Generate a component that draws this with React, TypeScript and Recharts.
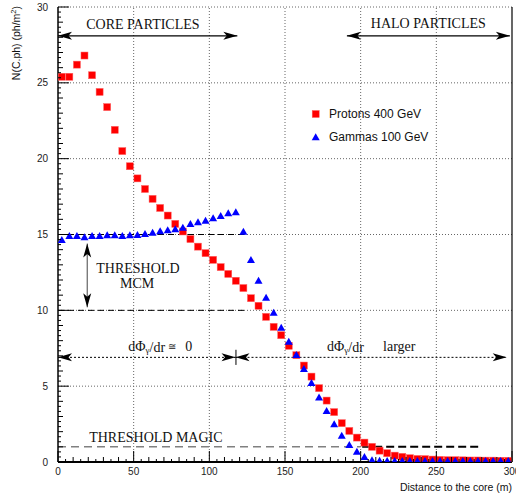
import React from 'react';
import { ScatterChart, Scatter, XAxis, YAxis, ReferenceLine, ReferenceDot, Legend, Label } from 'recharts';

// bin centres (m)
const distance = [
  2.5, 7.5, 12.5, 17.5, 22.5, 27.5, 32.5, 37.5, 42.5, 47.5,
  52.5, 57.5, 62.5, 67.5, 72.5, 77.5, 82.5, 87.5, 92.5, 97.5,
  102.5, 107.5, 112.5, 117.5, 122.5, 127.5, 132.5, 137.5, 142.5, 147.5,
  152.5, 157.5, 162.5, 167.5, 172.5, 177.5, 182.5, 187.5, 192.5, 197.5,
  202.5, 207.5, 212.5, 217.5, 222.5, 227.5, 232.5, 237.5, 242.5, 247.5,
  252.5, 257.5, 262.5, 267.5, 272.5, 277.5, 282.5, 287.5, 292.5, 297.5,
];

const protons = [
  25.4, 25.4, 26.2, 26.8, 25.5, 24.4, 23.4, 21.9, 20.5, 19.5,
  18.7, 18.0, 17.35, 16.75, 16.25, 15.7, 15.2, 14.7, 14.2, 13.77,
  13.33, 12.85, 12.4, 11.95, 11.47, 10.8, 10.3, 9.57, 8.91, 8.36,
  7.66, 7.04, 6.36, 5.63, 4.87, 4.05, 3.29, 2.56, 2.05, 1.61,
  1.28, 1.0, 0.75, 0.58, 0.42, 0.34, 0.25, 0.2, 0.19, 0.16,
  0.14, 0.12, 0.12, 0.11, 0.1, 0.1, 0.09, 0.09, 0.08, 0.08,
];

const gammas = [
  14.65, 14.92, 14.92, 14.83, 14.92, 14.92, 14.97, 14.97, 14.92, 14.97,
  14.98, 15.05, 15.13, 15.22, 15.29, 15.36, 15.46, 15.7, 15.82, 15.92,
  16.08, 16.23, 16.41, 16.48, 15.2, 13.33, 11.97, 10.85, 9.86, 8.87,
  7.94, 7.06, 6.14, 5.22, 4.27, 3.37, 2.51, 1.74, 1.13, 0.69,
  0.34, 0.13, 0.09, 0.08, 0.08, 0.08, 0.08, 0.08, 0.08, 0.08,
  0.08, 0.08, 0.08, 0.08, 0.08, 0.08, 0.08, 0.08, 0.08, 0.08,
];

const xTickLabels = [0, 50, 100, 150, 200, 250, 300];
const yTickLabels = [0, 5, 10, 15, 20, 25, 30];
const xGrid = [50, 100, 150, 200, 250];
const yGrid = [5, 10, 15, 20, 25, 30];

const protonData = distance.map((x, i) => ({ x, y: protons[i] }));
const gammaData = distance.map((x, i) => ({ x, y: gammas[i] }));

const xTicks: number[] = [];
for (let v = 0; v <= 300; v += 5) xTicks.push(v);
const yTicks: number[] = [];
for (let i = 0; i <= 90; i++) yTicks.push(i / 3);

const SANS = '"Liberation Sans", Arial, sans-serif';
const SERIF = '"Liberation Serif", "Times New Roman", serif';

const isMult = (v: number, m: number) => Math.abs(v / m - Math.round(v / m)) < 1e-6;

const XTick = ({ x, y, payload }: any) => {
  const v = payload.value;
  const major = xTickLabels.some((t) => Math.abs(t - v) < 1e-6);
  const len = major ? 11 : isMult(v, 10) ? 5 : 3;
  return (
    <g>
      <line x1={x} x2={x} y1={y} y2={y - len} stroke="#000" strokeWidth={1} />
      {major && (
        <text x={x} y={y + 9} textAnchor="middle" dominantBaseline="central" fontFamily={SANS} fontSize={10} fill="#222">
          {v}
        </text>
      )}
    </g>
  );
};

const YTick = ({ x, y, payload }: any) => {
  const v = payload.value;
  const major = yTickLabels.some((t) => Math.abs(t - v) < 1e-6);
  const len = major ? 11 : isMult(v, 1) ? 5 : 3;
  return (
    <g>
      <line x1={x} x2={x + len} y1={y} y2={y} stroke="#000" strokeWidth={1} />
      {major && (
        <text x={x - 10} y={y} textAnchor="end" dominantBaseline="central" fontFamily={SANS} fontSize={10} fill="#222">
          {Math.round(v)}
        </text>
      )}
    </g>
  );
};

const SquareDot = ({ cx, cy }: any) => (
  <rect x={cx - 3.5} y={cy - 3.5} width={7} height={7} fill="#ff0000" stroke="#ff6060" strokeWidth={0.5} />
);

const TriangleDot = ({ cx, cy }: any) => (
  <polygon points={`${cx - 4},${cy + 3.2} ${cx + 4},${cy + 3.2} ${cx},${cy - 3.8}`} fill="#0000ff" />
);

const headPoly = (tx: number, ty: number, ux: number, uy: number, hl: number, hw: number) => {
  const nx = -uy;
  const ny = ux;
  const bx = tx - ux * hl;
  const by = ty - uy * hl;
  const mx = tx - ux * hl * 0.75;
  const my = ty - uy * hl * 0.75;
  return `${tx},${ty} ${bx + nx * hw},${by + ny * hw} ${mx},${my} ${bx - nx * hw},${by - ny * hw}`;
};

const makeArrow = (dash: string | undefined, width: number, color: string) => (p: any) => {
  const { x1, y1, x2, y2 } = p;
  const L = Math.hypot(x2 - x1, y2 - y1) || 1;
  const ux = (x2 - x1) / L;
  const uy = (y2 - y1) / L;
  return (
    <g>
      <line x1={x1} y1={y1} x2={x2} y2={y2} stroke={color} strokeWidth={width} strokeDasharray={dash} />
      <polygon points={headPoly(x2, y2, ux, uy, 14, 4)} fill="#000" />
      <polygon points={headPoly(x1, y1, -ux, -uy, 14, 4)} fill="#000" />
    </g>
  );
};

const solidArrow = makeArrow(undefined, 1.3, '#000');
const dottedArrow = makeArrow('2 2', 1, '#000');
const mcmArrow = makeArrow(undefined, 1, '#444');

const textAt = (content: React.ReactNode, anchor: string, size: number, family = SERIF) => (p: any) => (
  <text x={p.cx} y={p.cy} textAnchor={anchor} dominantBaseline="central" fontFamily={family} fontSize={size} fill="#111">
    {content}
  </text>
);

const dPhi = (
  <>
    dΦ<tspan fontSize={9} dy={3}>γ</tspan>
    <tspan dy={-3}>/dr</tspan>
  </>
);

const LegendBox = () => (
  <div style={{ position: 'relative', width: 130, height: 46, fontFamily: SANS, fontSize: 12, color: '#111' }}>
    <svg width={16} height={46} style={{ position: 'absolute', left: 0, top: 0 }}>
      <SquareDot cx={6.7} cy={9} />
      <TriangleDot cx={6.7} cy={32} />
    </svg>
    <div style={{ position: 'absolute', left: 20, top: 1, whiteSpace: 'nowrap', lineHeight: '16px' }}>Protons 400 GeV</div>
    <div style={{ position: 'absolute', left: 20, top: 24, whiteSpace: 'nowrap', lineHeight: '16px' }}>Gammas 100 GeV</div>
  </div>
);

export default function App() {
  return (
    <div style={{ position: 'absolute', left: 0, top: 0, width: 516, height: 497, background: '#fff' }}>
      <ScatterChart width={516} height={497} margin={{ top: 7, right: 4, bottom: 0, left: 0 }}>
        <XAxis
          type="number"
          dataKey="x"
          domain={[0, 300]}
          ticks={xTicks}
          interval={0}
          tick={<XTick />}
          tickLine={false}
          tickSize={0}
          tickMargin={0}
          height={35}
          axisLine={{ stroke: '#000', strokeWidth: 2 }}
          allowDataOverflow
        >
          <Label
            content={() => (
              <text x={512} y={487} textAnchor="end" dominantBaseline="central" fontFamily={SANS} fontSize={10.5} fill="#111">
                Distance to the core (m)
              </text>
            )}
          />
        </XAxis>
        <YAxis
          type="number"
          dataKey="y"
          domain={[0, 30]}
          ticks={yTicks}
          interval={0}
          tick={<YTick />}
          tickLine={false}
          tickSize={0}
          tickMargin={0}
          width={58}
          axisLine={{ stroke: '#000', strokeWidth: 1.5 }}
          allowDataOverflow
        >
          <Label
            content={() => (
              <text transform="translate(20,6) rotate(-90)" textAnchor="end" fontFamily={SANS} fontSize={10.5} fill="#111">
                N(C.ph) (ph/m<tspan fontSize={7.5} dy={-4}>2</tspan>
                <tspan dy={4}>)</tspan>
              </text>
            )}
          />
        </YAxis>

        {xGrid.map((v) => (
          <ReferenceLine key={`gx${v}`} x={v} stroke="#666" strokeWidth={1} strokeDasharray="1 2" />
        ))}
        {yGrid.map((v) => (
          <ReferenceLine key={`gy${v}`} y={v} stroke="#666" strokeWidth={1} strokeDasharray="1 2" />
        ))}
        <ReferenceLine x={300} stroke="#000" strokeWidth={1.2} />

        {/* thresholds */}
        <ReferenceLine segment={[{ x: 0, y: 15 }, { x: 125, y: 15 }]} stroke="#000" strokeWidth={1} strokeDasharray="6 4" ifOverflow="visible" />
        <ReferenceLine segment={[{ x: 0, y: 10 }, { x: 125, y: 10 }]} stroke="#000" strokeWidth={1} strokeDasharray="6 4" ifOverflow="visible" />
        <ReferenceLine segment={[{ x: 0, y: 1 }, { x: 200, y: 1 }]} stroke="#808080" strokeWidth={1.5} strokeDasharray="8 5" ifOverflow="visible" />
        <ReferenceLine segment={[{ x: 201, y: 1 }, { x: 280, y: 1 }]} stroke="#000" strokeWidth={2} strokeDasharray="8 4" ifOverflow="visible" />

        {/* arrows */}
        <ReferenceLine segment={[{ x: 0, y: 28.1 }, { x: 118.5, y: 28.1 }]} shape={solidArrow} ifOverflow="visible" />
        <ReferenceLine segment={[{ x: 190.9, y: 28.1 }, { x: 298.6, y: 28.1 }]} shape={solidArrow} ifOverflow="visible" />
        <ReferenceLine segment={[{ x: 0, y: 6.9 }, { x: 117.3, y: 6.9 }]} shape={dottedArrow} ifOverflow="visible" />
        <ReferenceLine segment={[{ x: 117.3, y: 6.9 }, { x: 296.5, y: 6.9 }]} shape={dottedArrow} ifOverflow="visible" />
        <ReferenceLine segment={[{ x: 117.6, y: 6.4 }, { x: 117.6, y: 7.4 }]} stroke="#000" strokeWidth={1} ifOverflow="visible" />
        <ReferenceLine segment={[{ x: 19.3, y: 14.4 }, { x: 19.3, y: 10.2 }]} shape={mcmArrow} ifOverflow="visible" />

        {/* labels */}
        <ReferenceDot x={56.1} y={28.86} ifOverflow="visible" shape={textAt('CORE PARTICLES', 'middle', 14)} />
        <ReferenceDot x={244.7} y={28.9} ifOverflow="visible" shape={textAt('HALO PARTICLES', 'middle', 14)} />
        <ReferenceDot x={52.8} y={12.77} ifOverflow="visible" shape={textAt('THRESHOLD', 'middle', 14)} />
        <ReferenceDot x={52.3} y={11.79} ifOverflow="visible" shape={textAt('MCM', 'middle', 14)} />
        <ReferenceDot x={64.7} y={1.62} ifOverflow="visible" shape={textAt('THRESHOLD MAGIC', 'middle', 14)} />
        <ReferenceDot x={46.5} y={7.6} ifOverflow="visible" shape={textAt(dPhi, 'start', 14)} />
        <ReferenceDot x={72.9} y={7.6} ifOverflow="visible" shape={textAt('≅', 'start', 10)} />
        <ReferenceDot x={84.1} y={7.6} ifOverflow="visible" shape={textAt('0', 'start', 14)} />
        <ReferenceDot x={177.8} y={7.6} ifOverflow="visible" shape={textAt(dPhi, 'start', 14)} />
        <ReferenceDot x={214.8} y={7.6} ifOverflow="visible" shape={textAt('larger', 'start', 14)} />

        <Scatter name="Protons 400 GeV" data={protonData} shape={<SquareDot />} isAnimationActive={false} />
        <Scatter name="Gammas 100 GeV" data={gammaData} shape={<TriangleDot />} isAnimationActive={false} />

        <Legend
          layout="vertical"
          align="center"
          verticalAlign="middle"
          wrapperStyle={{ left: 309, top: 105, width: 130 }}
          content={() => <LegendBox />}
        />
      </ScatterChart>
    </div>
  );
}
